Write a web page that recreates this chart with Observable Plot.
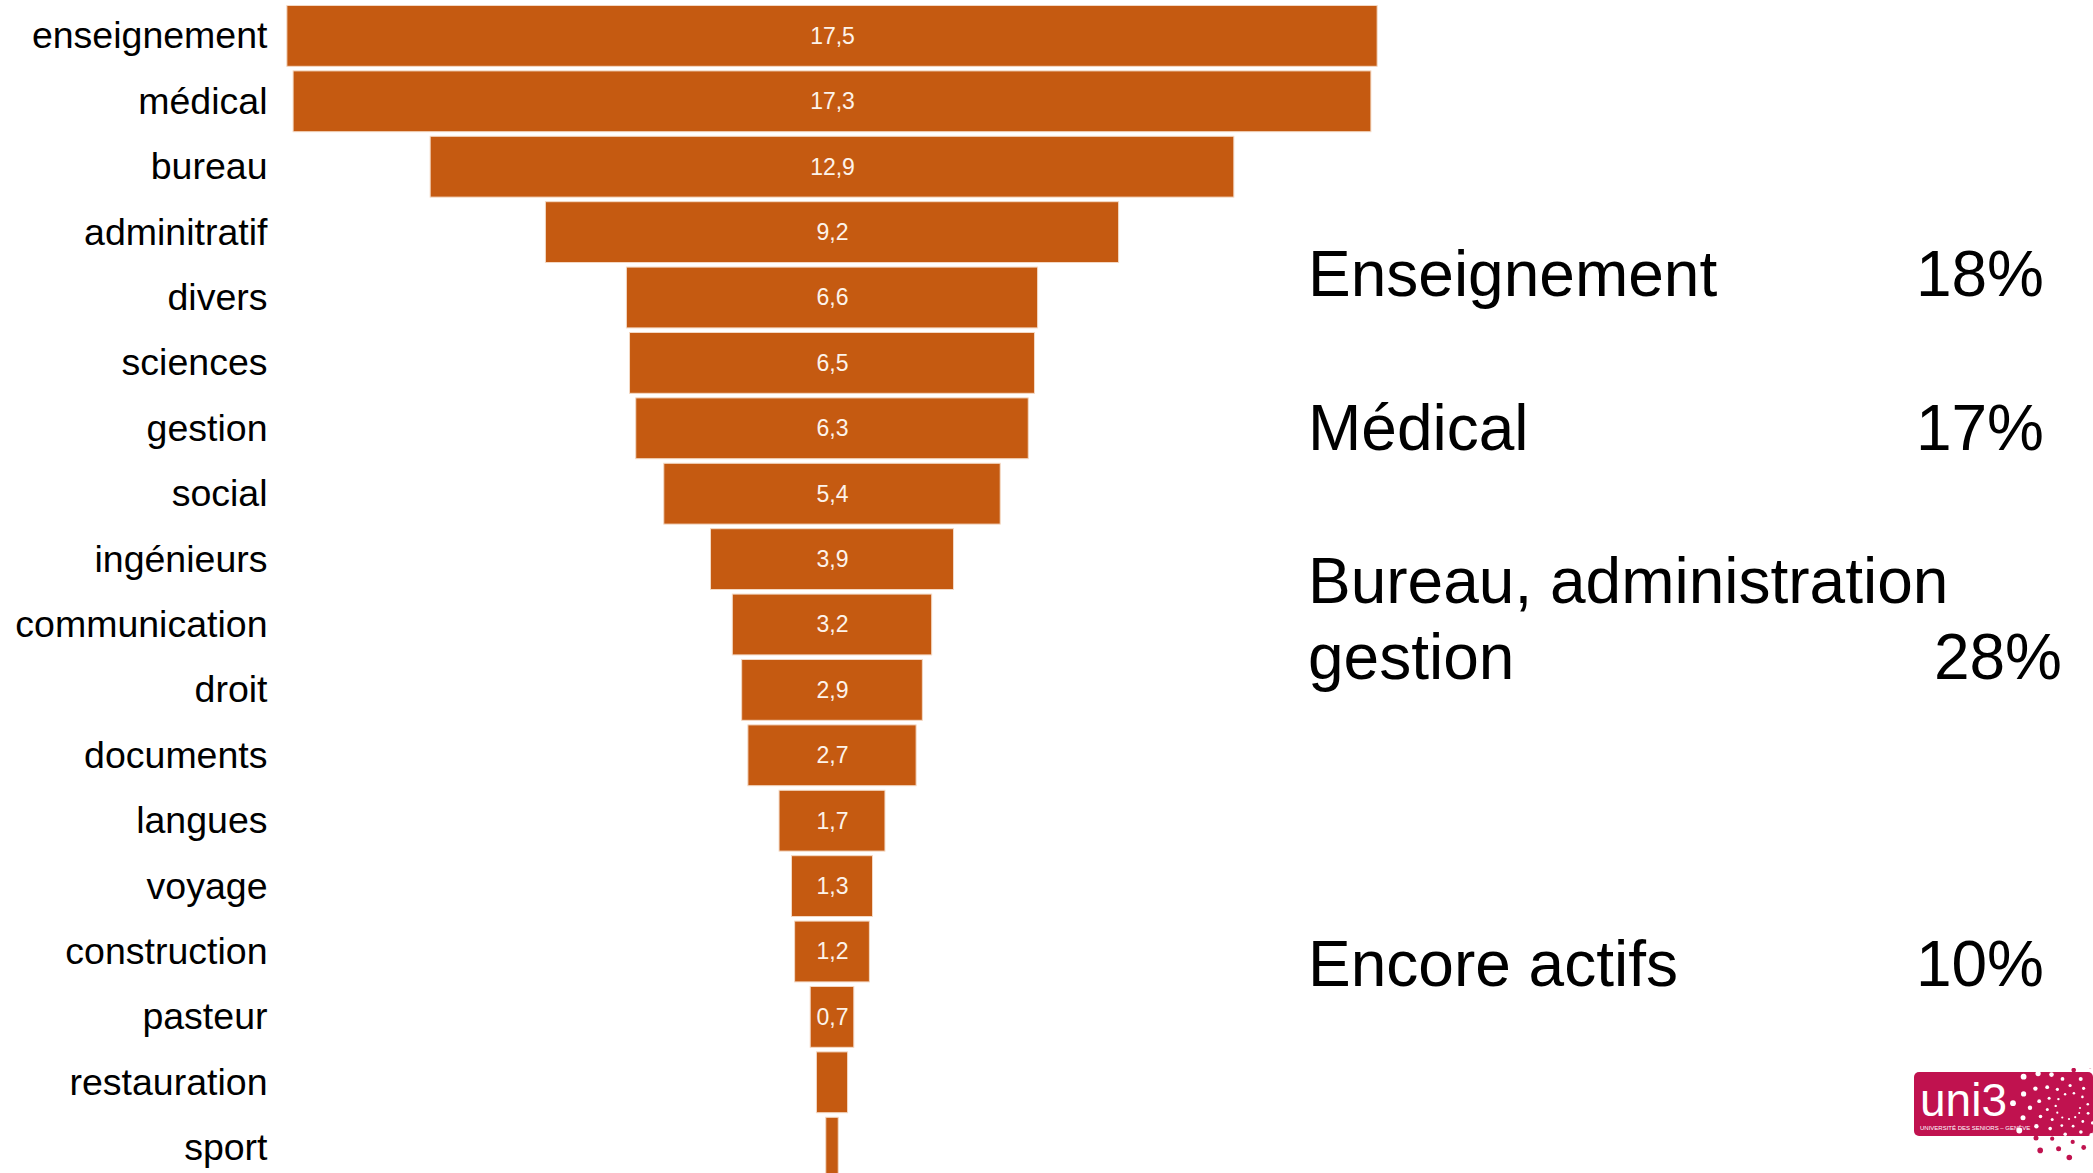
<!DOCTYPE html>
<html>
<head>
<meta charset="utf-8">
<script src="https://cdn.jsdelivr.net/npm/d3@7"></script>
<script src="https://cdn.jsdelivr.net/npm/@observablehq/plot@0.6"></script>
<style>
  html, body { margin: 0; padding: 0; background: #fff; overflow: hidden; }
  #wrap { position: relative; width: 2093px; height: 1173px; font-family: "Liberation Sans", Arial, sans-serif; }
  .note { position: absolute; font-size: 64px; color: #000; line-height: 1; white-space: nowrap; }
  .pct { position: absolute; font-size: 64px; color: #000; line-height: 1; text-align: right; white-space: nowrap; }
  #logo { position: absolute; left: 1912px; top: 1068px; }
</style>
</head>
<body>
<div id="wrap">
  <div id="chart"></div>
</div>
<script>
// Data
const categories = ["enseignement", "médical", "bureau", "adminitratif", "divers", "sciences", "gestion", "social", "ingénieurs", "communication", "droit", "documents", "langues", "voyage", "construction", "pasteur", "restauration", "sport"];
const values = [17.5, 17.3, 12.9, 9.2, 6.6, 6.5, 6.3, 5.4, 3.9, 3.2, 2.9, 2.7, 1.7, 1.3, 1.2, 0.7, 0.5, 0.2];
const valueLabels = ["17,5", "17,3", "12,9", "9,2", "6,6", "6,5", "6,3", "5,4", "3,9", "3,2", "2,9", "2,7", "1,7", "1,3", "1,2", "0,7", "", ""];
const noteLabels = ["Enseignement", "Médical", "Bureau, administration\ngestion", "Encore actifs"];
const notePercents = ["18%", "17%", "28%", "10%"];

const xMax = 8.78;
const rows = categories.map((c, i) => ({cat: c, v: values[i], label: valueLabels[i]}));

const chart = Plot.plot({
  width: 2093,
  height: 1173,
  marginLeft: 285,
  marginRight: 714,
  marginTop: 0,
  marginBottom: 0,
  style: {fontFamily: "'Liberation Sans', Arial, sans-serif", background: "transparent", overflow: "visible"},
  x: {domain: [-xMax, xMax], axis: null},
  y: {domain: categories, range: [3.2, 1180.4], paddingInner: 0.07, paddingOuter: 0.035, align: 0.5, round: false, label: null},
  marks: [
    Plot.barX(rows, {y: "cat", x1: d => -d.v / 2, x2: d => d.v / 2, fill: "#c55a11", stroke: "#f4d9c4", strokeWidth: 1}),
    Plot.text(rows, {y: "cat", x: 0, text: "label", fill: "#fdf3ea", fontSize: 23}),
    Plot.ruleX([-xMax], {stroke: "#d9d9d9", strokeWidth: 2, y1: null}),
    Plot.axisY({tickSize: 0, tickPadding: 18, fontSize: 37.5, fill: "#000", label: null})
  ]
});
document.getElementById("chart").appendChild(chart);

// Annotations on the right
const wrap = document.getElementById("wrap");
const noteTop = [300, 454, 607, 990];
const pctRight = [2044, 2044, 2062, 2044];
const pctBase = [300, 454, 683, 990];
noteLabels.forEach((t, i) => {
  const lines = t.split("\n");
  lines.forEach((ln, j) => {
    const d = document.createElement("div");
    d.className = "note";
    d.textContent = ln;
    d.style.left = "1308px";
    d.style.top = (noteTop[i] + j * 76 - 58) + "px";
    wrap.appendChild(d);
  });
  const p = document.createElement("div");
  p.className = "pct";
  p.textContent = notePercents[i];
  p.style.right = (2093 - pctRight[i]) + "px";
  p.style.top = (pctBase[i] - 58) + "px";
  wrap.appendChild(p);
});

// Logo (decorative)
const ns = "http://www.w3.org/2000/svg";
const logo = document.createElementNS(ns, "svg");
logo.setAttribute("id", "logo");
logo.setAttribute("width", 181);
logo.setAttribute("height", 105);
let html = '<rect x="2" y="4" width="179" height="64" rx="5" fill="#c0124f"/>' +
  '<text x="8" y="48" fill="#fff" font-size="46" font-family="Liberation Sans, Arial">uni3</text>' +
  '<text x="8" y="62" fill="#fff" font-size="6" font-family="Liberation Sans, Arial">UNIVERSITÉ DES SENIORS – GENÈVE</text>';
for (let k = 0; k < 70; k++) {
  const a = k * 0.55, r = 10 + k * 0.75;
  const cx = 158 + r * Math.cos(a), cy = 40 + r * Math.sin(a) * 0.9;
  if (cx < 100) continue;
  const inside = cx > 2 && cx < 181 && cy > 4 && cy < 68;
  html += `<circle cx="${cx.toFixed(1)}" cy="${cy.toFixed(1)}" r="${(1 + k * 0.03).toFixed(1)}" fill="${inside ? '#fff' : '#c0124f'}"/>`;
}
logo.innerHTML = html;
wrap.appendChild(logo);
</script>
</body>
</html>
